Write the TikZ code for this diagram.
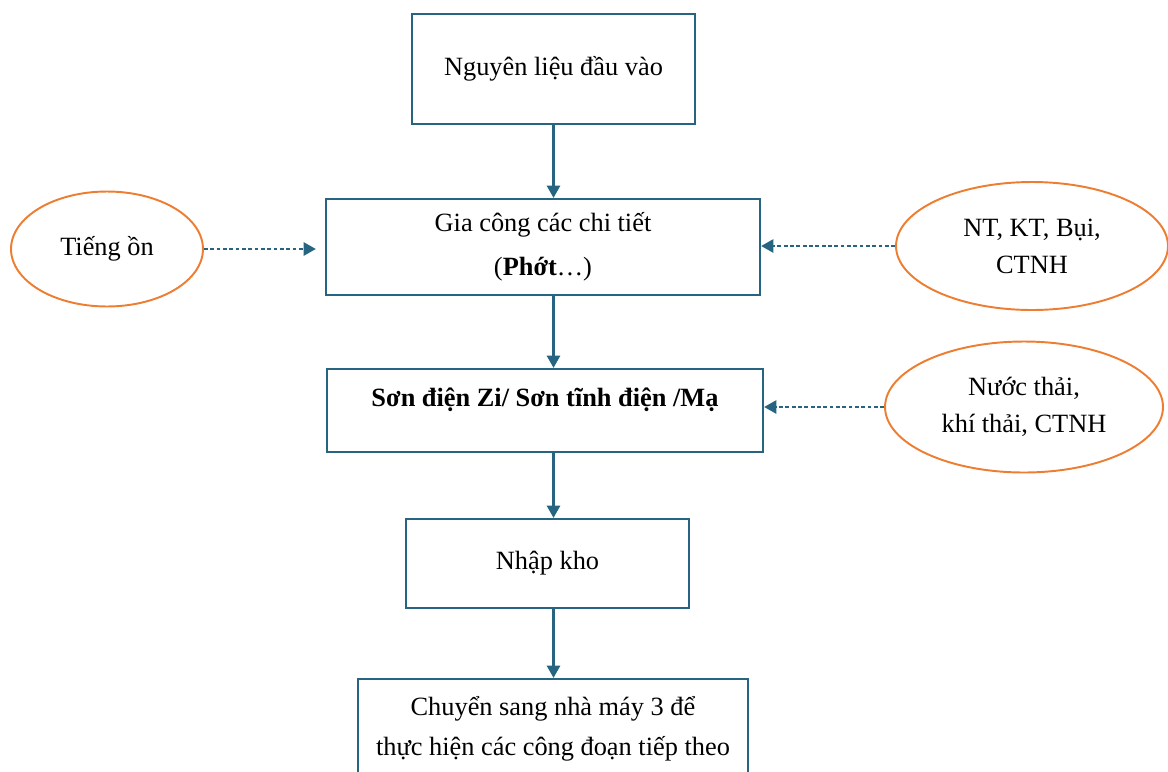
\documentclass[tikz,border=0pt]{standalone}
\usepackage{fontspec}
\setmainfont{Liberation Serif}
\usetikzlibrary{arrows.meta,shapes.geometric}
\definecolor{lineblue}{RGB}{38,100,130}
\definecolor{ovalorange}{RGB}{237,125,49}

\begin{document}
\begin{tikzpicture}[x=0.02cm,y=-0.02cm,%
	stagebox/.style={draw=lineblue,line width=1.3pt,align=center,inner sep=0pt,font=\fontsize{15}{24}\selectfont},%
	wasteoval/.style={ellipse,draw=ovalorange,line width=1.1pt,align=center,inner sep=0pt,font=\fontsize{15}{21}\selectfont},%
	flowline/.style={draw=lineblue,line width=1.4pt,-{Triangle[length=7pt,width=7.5pt]}},%
	wasteline/.style={draw=lineblue,line width=1.3pt,dash pattern=on 2.2pt off 1.4pt,-{Triangle[length=7pt,width=7.5pt]}}] % so do quy trinh
\clip (0,0) rectangle (1168,771);
\node[stagebox,minimum width=5.66cm,minimum height=2.2cm] (nlieu) at (553.5,69) {Nguyên liệu đầu vào};
\node[stagebox,minimum width=8.68cm,minimum height=1.92cm,font=\fontsize{15}{25}\selectfont] (giacong) at (543,247) {Gia công các chi tiết\\(\textbf{Phớt}…)};
\node[stagebox,minimum width=8.72cm,minimum height=1.66cm,text height=0.75cm,text depth=0.91cm,font=\fontsize{15}{24}\selectfont\bfseries] (son) at (545,410.5) {Sơn điện Zi/ Sơn tĩnh điện /Mạ};
\node[stagebox,minimum width=5.66cm,minimum height=1.78cm] (nhapkho) at (547.5,563.5) {Nhập kho};
\node[stagebox,minimum width=7.8cm,minimum height=2cm,font=\fontsize{15}{22.7}\selectfont] (chuyen) at (553,729) {Chuyển sang nhà máy 3 để\\thực hiện các công đoạn tiếp theo};
\node[wasteoval,minimum width=3.84cm,minimum height=2.3cm] (tiengon) at (107,249) {Tiếng ồn};
\node[wasteoval,minimum width=5.44cm,minimum height=2.56cm] (ntkt) at (1032,246) {NT, KT, Bụi,\\CTNH};
\node[wasteoval,minimum width=5.56cm,minimum height=2.62cm] (nuocthai) at (1024,407) {Nước thải,\\khí thải, CTNH};
\foreach \tren/\duoi in%
{%
	nlieu/giacong,giacong/son,son/nhapkho,nhapkho/chuyen%
}{%
	\draw[flowline] (\tren.south -| nlieu) -- (\duoi.north -| nlieu);
}%
\draw[wasteline,shorten >=0.18cm] (tiengon.east) -- (tiengon.east -| giacong.west);
\draw[wasteline] (ntkt.west) -- (ntkt.west -| giacong.east);
\draw[wasteline] (nuocthai.west) -- (nuocthai.west -| son.east);
\end{tikzpicture}
\end{document}
